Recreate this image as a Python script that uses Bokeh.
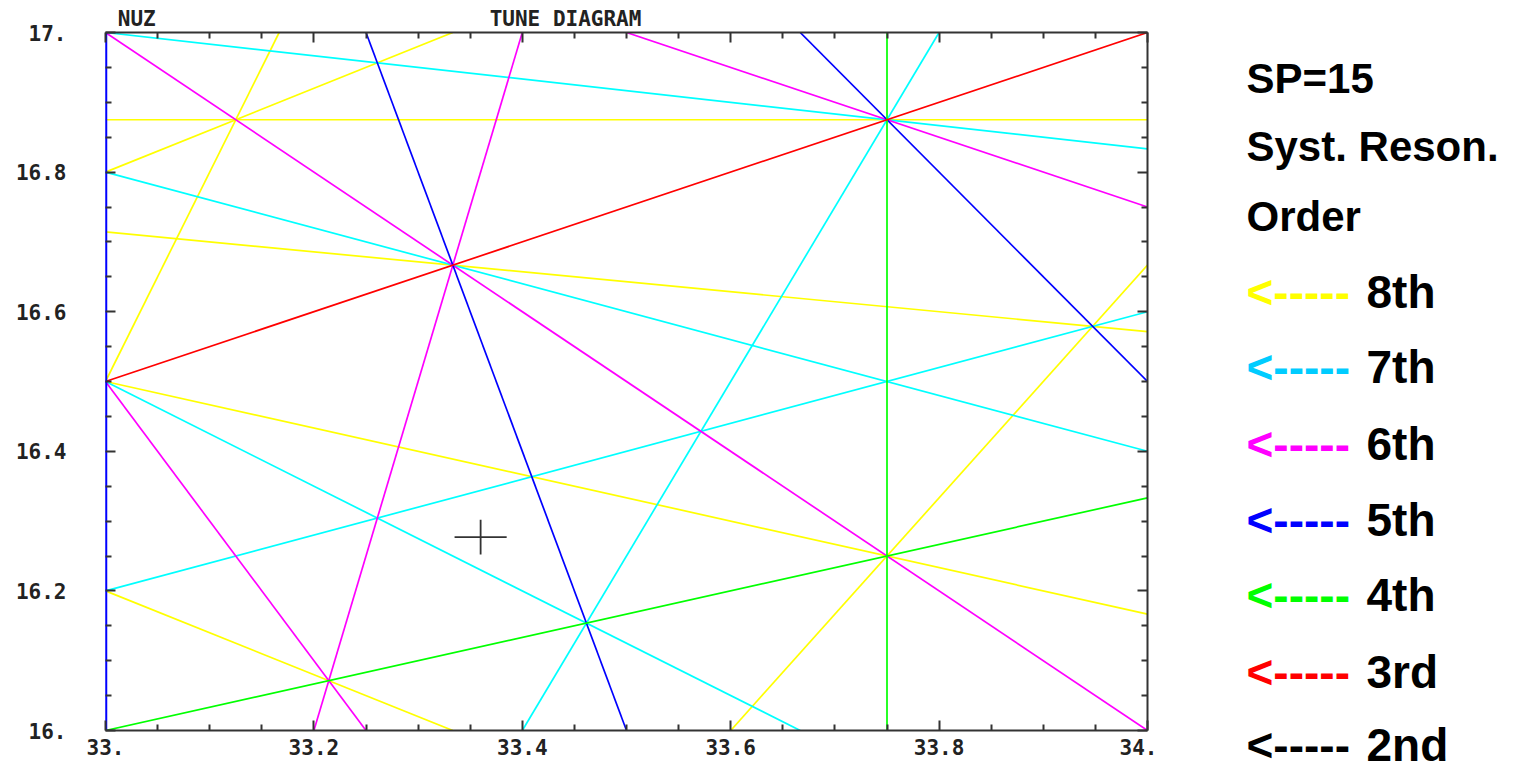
from bokeh.plotting import figure
from bokeh.models import Range1d, LinearAxis, FixedTicker, Label
from bokeh.layouts import row, column
from bokeh.embed import file_html
from bokeh.resources import INLINE

# ---------------- data ----------------
x_ticks = [33.0, 33.2, 33.4, 33.6, 33.8, 34.0]
x_tick_labels = ["33.", "33.2", "33.4", "33.6", "33.8", "34."]
x_minor_ticks = [33.05, 33.1, 33.15, 33.25, 33.3, 33.35, 33.45, 33.5, 33.55,
                 33.65, 33.7, 33.75, 33.85, 33.9, 33.95]
y_ticks = [16.0, 16.2, 16.4, 16.6, 16.8, 17.0]
y_tick_labels = ["16.", "16.2", "16.4", "16.6", "16.8", "17."]
y_minor_ticks = [16.05, 16.1, 16.15, 16.25, 16.3, 16.35, 16.45, 16.5, 16.55,
                 16.65, 16.7, 16.75, 16.85, 16.9, 16.95]

# resonance line endpoints (Qx, Qy) per order
res8_x0 = [33.0, 33.0, 33.0, 33.0, 33.0, 33.0, 33.6]
res8_y0 = [16.875, 16.8, 16.5, 16.7143, 16.5, 16.2, 16.0]
res8_x1 = [34.0, 33.3333, 33.1667, 34.0, 34.0, 33.3333, 34.0]
res8_y1 = [16.875, 17.0, 17.0, 16.5714, 16.1667, 16.0, 16.6667]

res7_x0 = [33.0, 33.0, 33.0, 33.0, 33.4]
res7_y0 = [17.0, 16.8, 16.5, 16.2, 16.0]
res7_x1 = [34.0, 34.0, 33.6667, 34.0, 33.8]
res7_y1 = [16.8333, 16.4, 16.0, 16.6, 17.0]

res6_x0 = [33.2, 33.0, 33.5, 33.0]
res6_y0 = [16.0, 16.5, 17.0, 17.0]
res6_x1 = [33.4, 33.25, 34.0, 34.0]
res6_y1 = [17.0, 16.0, 16.75, 16.0]

res5_x0 = [33.0, 33.25, 33.6667]
res5_y0 = [16.0, 17.0, 17.0]
res5_x1 = [33.0, 33.5, 34.0]
res5_y1 = [17.0, 16.0, 16.5]

res4_x0 = [33.75, 33.0]
res4_y0 = [16.0, 16.0]
res4_x1 = [33.75, 34.0]
res4_y1 = [17.0, 16.3333]

res3_x0 = [33.0]
res3_y0 = [16.5]
res3_x1 = [34.0]
res3_y1 = [17.0]

# working point
wp_x = [33.36]
wp_y = [16.277]
wp_half = 0.025

title_texts = ["NUZ", "TUNE DIAGRAM"]
header_texts = ["SP=15", "Syst. Reson.", "Order"]
order_labels = ["8th", "7th", "6th", "5th", "4th", "3rd", "2nd"]
arrow_text = "<-----"

# ---------------- styling / layout ----------------
W, H = 1515, 772
MAIN_W = 1157          # main figure width (frame 105..1147)
LEG_W = W - MAIN_W
BASE_SHIFT = 0.4       # label anchor correction (fraction of font size)
title_pos = [33.03, 33.4415]   # centres of the two title texts above the frame

line_colors = ["#ffff00", "#00ffff", "#ff00ff", "#0000ff", "#00ff00", "#ff0000"]
legend_colors = ["#ffff00", "#00ccff", "#ff00ff", "#0000ff", "#00ff00", "#ff0000", "#000000"]
axis_col = "#333333"
mono = "DejaVu Sans Mono"
sans = "Liberation Sans"


def blank_fig(w, h, xr, yr):
    f = figure(width=w, height=h, output_backend="svg", toolbar_location=None,
               x_range=xr, y_range=yr, x_axis_type=None, y_axis_type=None,
               min_border=0, min_border_left=0, min_border_right=0,
               min_border_top=0, min_border_bottom=0)
    f.outline_line_color = None
    f.background_fill_color = "white"
    f.border_fill_color = "white"
    f.xgrid.visible = False
    f.ygrid.visible = False
    return f


p = figure(width=MAIN_W, height=H, output_backend="svg", toolbar_location=None,
           x_range=Range1d(33, 34), y_range=Range1d(16, 17),
           min_border_left=105, min_border_right=MAIN_W - 1147,
           min_border_top=32, min_border_bottom=H - 730)
p.background_fill_color = "white"
p.border_fill_color = "white"
p.outline_line_color = None
p.xgrid.visible = False
p.ygrid.visible = False


def style_axis(ax, show_line=True):
    ax.major_tick_in = 10
    ax.major_tick_out = 0
    ax.minor_tick_in = 6
    ax.minor_tick_out = 0
    ax.major_tick_line_color = axis_col
    ax.minor_tick_line_color = axis_col
    ax.major_tick_line_width = 2
    ax.minor_tick_line_width = 2
    ax.axis_line_color = axis_col if show_line else None
    ax.axis_line_width = 2
    ax.major_label_text_font = mono
    ax.major_label_text_font_style = "bold"
    ax.major_label_text_font_size = "21px"
    ax.major_label_text_color = "#222222"


xa = p.xaxis[0]
xa.ticker = FixedTicker(ticks=x_ticks, minor_ticks=x_minor_ticks)
xa.major_label_overrides = {t: s for t, s in zip(x_ticks, x_tick_labels)}
style_axis(xa)
xa.major_label_standoff = 8

ya = p.yaxis[0]
ya.ticker = FixedTicker(ticks=y_ticks, minor_ticks=y_minor_ticks)
ya.major_label_overrides = {t: s for t, s in zip(y_ticks, y_tick_labels)}
style_axis(ya, show_line=False)
ya.major_label_standoff = 39

# frame top/right: tick marks only
top = LinearAxis(ticker=FixedTicker(ticks=x_ticks, minor_ticks=x_minor_ticks))
style_axis(top)
top.major_label_overrides = {t: "" for t in x_ticks}
top.major_label_text_font_size = "1px"
top.major_label_standoff = 0
p.add_layout(top, "above")
right = LinearAxis(ticker=FixedTicker(ticks=y_ticks, minor_ticks=y_minor_ticks))
style_axis(right)
right.major_label_overrides = {t: "" for t in y_ticks}
right.major_label_text_font_size = "1px"
right.major_label_standoff = 0
p.add_layout(right, "right")

# outer top axis carrying only the two title texts
tt = LinearAxis(ticker=FixedTicker(ticks=title_pos, minor_ticks=[]))
tt.major_label_overrides = {t: s for t, s in zip(title_pos, title_texts)}
tt.axis_line_color = None
tt.major_tick_in = 0
tt.major_tick_out = 0
tt.minor_tick_in = 0
tt.minor_tick_out = 0
tt.major_label_text_font = mono
tt.major_label_text_font_style = "bold"
tt.major_label_text_font_size = "21px"
tt.major_label_text_color = "#222222"
tt.major_label_standoff = 2
p.add_layout(tt, "above")

# resonance lines, highest order first so lower orders sit on top
series = [
    (res8_x0, res8_y0, res8_x1, res8_y1),
    (res7_x0, res7_y0, res7_x1, res7_y1),
    (res6_x0, res6_y0, res6_x1, res6_y1),
    (res5_x0, res5_y0, res5_x1, res5_y1),
    (res4_x0, res4_y0, res4_x1, res4_y1),
    (res3_x0, res3_y0, res3_x1, res3_y1),
]
for (x0, y0, x1, y1), c in zip(series, line_colors):
    p.segment(x0=x0, y0=y0, x1=x1, y1=y1, line_color=c, line_width=1.7)

# 5th-order line on the left frame edge: drawn wider because half is clipped
p.segment(x0=res5_x0[:1], y0=res5_y0[:1], x1=res5_x1[:1], y1=res5_y1[:1],
          line_color=line_colors[3], line_width=3.5)

# working-point cross
p.segment(x0=[x - wp_half for x in wp_x], y0=wp_y,
          x1=[x + wp_half for x in wp_x], y1=wp_y,
          line_color="#333333", line_width=1.8)
p.segment(x0=wp_x, y0=[y - wp_half for y in wp_y],
          x1=wp_x, y1=[y + wp_half for y in wp_y],
          line_color="#333333", line_width=1.8)

# side legend (coordinates = page pixels, y downward)
leg = blank_fig(LEG_W, H, Range1d(MAIN_W, W), Range1d(H, 0))
for txt, base in zip(header_texts, [95, 163, 233]):
    leg.add_layout(Label(x=1246, y=base - BASE_SHIFT * 42, text=txt, text_font=sans,
                         text_font_style="bold", text_font_size="42px",
                         text_color="black", text_baseline="alphabetic",
                         text_align="left"))
for txt, c, base in zip(order_labels, legend_colors, [310, 385, 462, 538, 613, 690, 763]):
    leg.add_layout(Label(x=1246, y=base - BASE_SHIFT * 46, text=arrow_text, text_font=sans,
                         text_font_style="bold", text_font_size="46px",
                         text_color=c, text_baseline="alphabetic", text_align="left"))
    leg.add_layout(Label(x=1366, y=base - BASE_SHIFT * 46, text=txt, text_font=sans,
                         text_font_style="bold", text_font_size="46px",
                         text_color="black", text_baseline="alphabetic",
                         text_align="left"))

layout = row(column(p, spacing=0), leg, spacing=0)
open("out.html", "w").write(file_html(layout, INLINE))
